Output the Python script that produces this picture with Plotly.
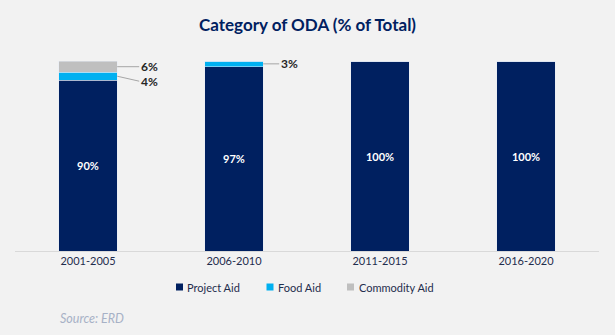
import plotly.graph_objects as go

periods = ["2001-2005", "2006-2010", "2011-2015", "2016-2020"]
project_aid = [90, 97, 100, 100]
food_aid = [4, 3, 0, 0]
commodity_aid = [6, 0, 0, 0]

NAVY = "#002060"
CYAN = "#00b0f0"
GREY = "#bfbfbf"
TEXT = "#1f2d4d"
FONT = "Lato"
BAR_W = 0.4

series = [
    ("Project Aid", project_aid, NAVY),
    ("Food Aid", food_aid, CYAN),
    ("Commodity Aid", commodity_aid, GREY),
]

fig = go.Figure()
for name, vals, color in series:
    kw = {}
    if name == "Project Aid":
        kw = dict(texttemplate="<b>%{y}%</b>", textposition="inside",
                  insidetextanchor="middle",
                  textfont=dict(color="white", size=11, family=FONT))
    fig.add_bar(x=periods, y=vals, name=name, marker_color=color,
                width=BAR_W, hoverinfo="skip", showlegend=False, **kw)

# Outside labels with leader lines for the small segments
leader_len = [22, 16, 16, 16]
for i, p in enumerate(periods):
    base = project_aid[i]
    items = []
    if food_aid[i] > 0:
        items.append((base + food_aid[i] / 2, food_aid[i],
                      5 if commodity_aid[i] > 0 else 0))
    if commodity_aid[i] > 0:
        items.append((base + food_aid[i] + commodity_aid[i] / 2, commodity_aid[i], 0))
    for ymid, val, drop in items:
        fig.add_annotation(x=i + BAR_W / 2, y=ymid, xref="x", yref="y",
                           text=f"<b>{val}%</b>", showarrow=True, arrowhead=0,
                           arrowwidth=1, arrowcolor="#a6a6a6",
                           ax=leader_len[i], ay=drop, axref="pixel", ayref="pixel",
                           xanchor="left", yanchor="middle", standoff=0,
                           font=dict(size=12, color="#262626", family=FONT))

# Plot-area geometry in pixels, used to place the legend row and source note
PL, PW, PB, PH = 15, 584, 251, 190


def px_x(x):
    return (x - PL) / PW


def px_y(y):
    return (PB - y) / PH


# Legend row: swatch + label per series
legend_x = [179.5, 270, 350.5]
legend_y = 287
for (name, _, color), lx in zip(series, legend_x):
    fig.add_shape(type="rect", xref="paper", yref="paper",
                  x0=px_x(lx - 3.5), x1=px_x(lx + 3.5),
                  y0=px_y(legend_y + 3.5), y1=px_y(legend_y - 3.5),
                  fillcolor=color, line_width=0)
    fig.add_annotation(text=name, xref="paper", yref="paper",
                       x=px_x(lx + 6), y=px_y(legend_y),
                       xanchor="left", yanchor="middle", showarrow=False,
                       font=dict(size=11, color=TEXT, family=FONT))

fig.add_annotation(text="<i>Source: ERD</i>", xref="paper", yref="paper",
                   x=px_x(58), y=px_y(318),
                   xanchor="left", yanchor="middle", showarrow=False,
                   font=dict(size=12.5, color="#a7b1c6", family=FONT))

fig.update_layout(
    barmode="stack",
    width=615, height=335,
    margin=dict(l=15, r=16, t=61, b=84),
    paper_bgcolor="#f2f2f2", plot_bgcolor="#f2f2f2",
    title=dict(text="<b>Category of ODA (% of Total)</b>", x=0.5, xanchor="center",
               y=0.924, yanchor="middle",
               font=dict(size=17, color=NAVY, family=FONT)),
    font=dict(family=FONT, color=TEXT, size=11),
    showlegend=False,
    xaxis=dict(showgrid=False, showline=True, linecolor="#d9d9d9", linewidth=1,
               ticks="", tickfont=dict(size=11, color=TEXT), fixedrange=True),
    yaxis=dict(range=[0, 100], visible=False, fixedrange=True),
)

fig.write_html("out.html")
